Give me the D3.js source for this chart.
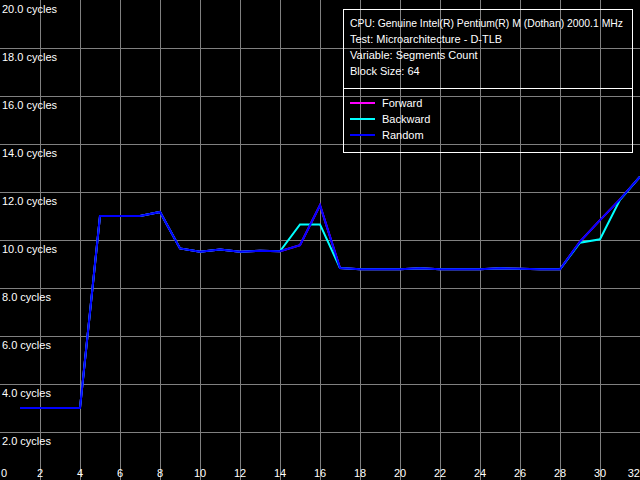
<!DOCTYPE html>
<html>
<head>
<meta charset="utf-8">
<script src="https://cdn.jsdelivr.net/npm/d3@7"></script>
<style>
  html, body { margin: 0; padding: 0; background: #000; }
  svg { display: block; }
  text { font-family: "Liberation Sans", Arial, sans-serif; font-size: 11px; fill: #fff; }
</style>
</head>
<body>
<script>
const segments = [1,2,3,4,5,6,7,8,9,10,11,12,13,14,15,16,17,18,19,20,21,22,23,24,25,26,27,28,29,30,31,32];
const forward  = [3.0,3.0,3.0,3.0,11.0,11.0,11.0,11.17,9.65,9.51,9.6,9.51,9.55,9.53,9.78,11.45,8.83,8.78,8.78,8.78,8.82,8.78,8.78,8.78,8.82,8.8,8.78,8.78,9.93,10.83,11.69,12.64];
const backward = [3.0,3.0,3.0,3.0,11.0,11.0,11.0,11.17,9.65,9.51,9.6,9.51,9.55,9.53,10.65,10.65,8.83,8.78,8.78,8.78,8.82,8.78,8.78,8.78,8.82,8.8,8.78,8.78,9.89,10.03,11.67,12.64];
const random   = [3.0,3.0,3.0,3.0,11.0,11.0,11.0,11.17,9.65,9.51,9.6,9.51,9.55,9.53,9.78,11.45,8.83,8.78,8.78,8.78,8.82,8.78,8.78,8.78,8.82,8.8,8.78,8.78,9.93,10.83,11.69,12.64];
const xTicks = [0,2,4,6,8,10,12,14,16,18,20,22,24,26,28,30,32];
const yTicks = [2,4,6,8,10,12,14,16,18,20];
const yTickLabels = yTicks.map(v => v.toFixed(1) + " cycles");
const infoLines = [
  "CPU: Genuine Intel(R) Pentium(R) M (Dothan) 2000.1 MHz",
  "Test: Microarchitecture - D-TLB",
  "Variable: Segments Count",
  "Block Size: 64"
];
const seriesNames = ["Forward", "Backward", "Random"];
const seriesColors = ["#ff00ff", "#00ffff", "#0000ff"];
const seriesData = [forward, backward, random];

const W = 640, H = 480;
const svg = d3.select("body").append("svg").attr("width", W).attr("height", H);
svg.append("rect").attr("width", W).attr("height", H).attr("fill", "#000");

const x = d3.scaleLinear().domain([0, 32]).range([0, 640]);
const y = d3.scaleLinear().domain([0, 20]).range([480, 0]);

// grid
const grid = svg.append("g").attr("stroke", "#808080").attr("stroke-width", 1).attr("shape-rendering", "crispEdges");
xTicks.filter(t => t > 0 && t < 32).forEach(t => {
  grid.append("line").attr("x1", x(t) + 0.5).attr("x2", x(t) + 0.5).attr("y1", 0).attr("y2", H);
});
yTicks.filter(t => t > 0 && t < 20).forEach(t => {
  grid.append("line").attr("y1", y(t) + 0.5).attr("y2", y(t) + 0.5).attr("x1", 0).attr("x2", W);
});

// y labels
yTicks.forEach((t, i) => {
  svg.append("text").attr("x", 2).attr("y", y(t) + 13).text(yTickLabels[i]);
});

// x labels
xTicks.forEach(t => {
  const tx = svg.append("text").attr("y", 477).text(String(t));
  const w = tx.node().getComputedTextLength();
  let px = x(t) - w / 2;
  px = Math.max(1, Math.min(W - w, px));
  tx.attr("x", px);
});

// series
const line = d3.line().x((d, i) => x(segments[i])).y(d => y(d));
seriesData.forEach((data, k) => {
  svg.append("path").datum(data)
    .attr("d", line)
    .attr("fill", "none")
    .attr("stroke", seriesColors[k])
    .attr("stroke-width", 2)
    .attr("stroke-linejoin", "miter");
});

// legend box
const lg = svg.append("g").attr("shape-rendering", "crispEdges");
lg.append("rect").attr("x", 343.5).attr("y", 9.5).attr("width", 289).attr("height", 143)
  .attr("fill", "none").attr("stroke", "#fff").attr("stroke-width", 1);
lg.append("line").attr("x1", 343.5).attr("x2", 632.5).attr("y1", 88.5).attr("y2", 88.5)
  .attr("stroke", "#fff").attr("stroke-width", 1);

infoLines.forEach((s, i) => {
  const t = svg.append("text").attr("x", 350).attr("y", 27 + i * 16).text(s);
  if (i === 0) t.attr("textLength", 273).attr("lengthAdjust", "spacingAndGlyphs");
});
seriesNames.forEach((s, i) => {
  const cy = 103 + i * 16;
  svg.append("line").attr("x1", 350).attr("x2", 375).attr("y1", cy).attr("y2", cy)
    .attr("stroke", seriesColors[i]).attr("stroke-width", 2);
  svg.append("text").attr("x", 382).attr("y", cy + 4).text(s);
});
</script>
</body>
</html>
